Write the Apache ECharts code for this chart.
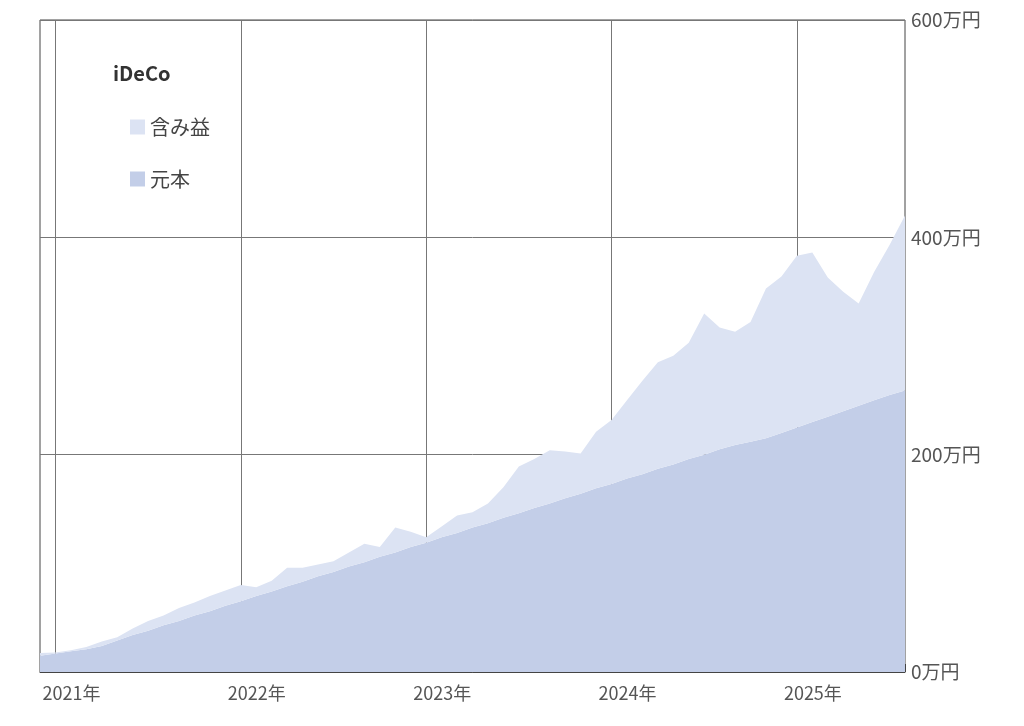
<!DOCTYPE html>
<html><head><meta charset="utf-8">
<script src="https://cdn.jsdelivr.net/npm/echarts@6/dist/echarts.min.js"></script>
<style>html,body{margin:0;background:#fff}#c{width:1024px;height:726px}</style>
</head><body><div id="c"></div>
<script>
const months = [];
(function(){ months.push('2020-12'); for (let y=2021;y<=2025;y++){ for(let m=1;m<=12;m++){ if(y===2025&&m>8)break; months.push(y+'-'+String(m).padStart(2,'0')); } } })();
const principal = [15,17,19,21,24,29,34,38,43,47,52,56,61,65,70,74,79,83,88,92,97,101,106,110,115,119,124,128,133,137,142,146,151,155,160,164,169,173,178,182,187,191,196,200,205,209,212,215,220,225,230,235,240,245,250,255,259];
const gains = [2.5,1,1,2,4,3,6,9,9,12,12,14,14,15,8,10,17,13,11,10,13,17,9,23,14,5,10,16,14,18,28,43,45,49,43,37,52,59,72,86,98,100,107,130,112,104,110,138,144,158,156,128,110,94,118,138,161];
const yTicks = [0,200,400,600];
const font = '"Noto Sans CJK JP","Noto Sans",sans-serif';
const chart = echarts.init(document.getElementById('c'));
chart.setOption({
  animation:false,
  title:{text:'iDeCo',left:108,top:58,textStyle:{fontFamily:font,fontSize:20,fontWeight:'bold',color:'#333'}},
  legend:{orient:'vertical',left:125,top:112,itemGap:32,itemWidth:15,itemHeight:15,
    data:[{name:'含み益',icon:'rect'},{name:'元本',icon:'rect'}],
    textStyle:{fontFamily:font,fontSize:20,color:'#444'}},
  grid:{left:40,right:119,top:20,bottom:54,show:true,borderColor:'#444',borderWidth:1},
  xAxis:{type:'category',data:months,boundaryGap:false,
    axisLine:{show:true,lineStyle:{color:'#444'}},
    axisTick:{show:true,inside:true,length:8,interval:0,lineStyle:{color:'#444'}},
    splitLine:{show:true,interval:(i,v)=>v.endsWith('-01'),lineStyle:{color:'#777'}},
    axisLabel:{interval:(i,v)=>v.endsWith('-01'),formatter:v=>v.slice(0,4)+'年',
      fontFamily:font,fontSize:18,color:'#555',margin:12,padding:[0,0,0,32]}},
  yAxis:{type:'value',position:'right',min:0,max:600,interval:200,
    axisLine:{show:false},axisTick:{show:false},
    splitLine:{lineStyle:{color:'#777'}},
    axisLabel:{formatter:v=>v+'万円',fontFamily:font,fontSize:19,color:'#555',margin:6}},
  series:[
    {name:'元本',type:'line',stack:'t',data:principal,symbol:'none',lineStyle:{width:0},
      itemStyle:{color:'#c3cee8'},areaStyle:{color:'#c3cee8',opacity:1}},
    {name:'含み益',type:'line',stack:'t',data:gains,symbol:'none',lineStyle:{width:0},
      itemStyle:{color:'#dce3f3'},areaStyle:{color:'#dce3f3',opacity:1}}
  ]
});
</script></body></html>
